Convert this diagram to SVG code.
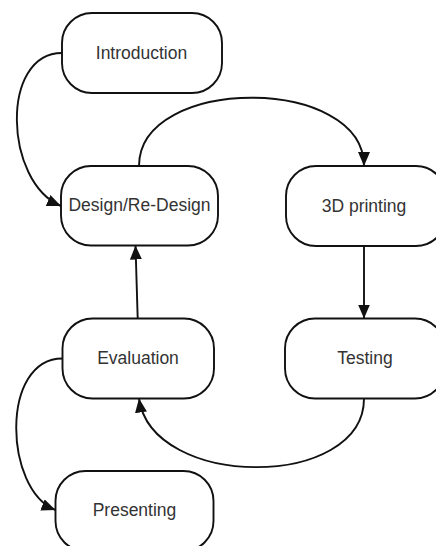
<svg xmlns="http://www.w3.org/2000/svg" width="436" height="546" viewBox="0 0 436 546">
<style>
.node rect{fill:#ffffff;stroke:#111111;stroke-width:1.9}
.node text{font-family:"Liberation Sans",Arial,sans-serif;font-size:17.5px;fill:#333333;text-anchor:middle}
.conn path{fill:none;stroke:#111111;stroke-width:1.9;marker-end:url(#arrow)}
</style>
<defs>
<marker id="arrow" markerUnits="userSpaceOnUse" markerWidth="16" markerHeight="12" refX="14" refY="6" orient="auto">
<path d="M0,0 L14,6 L0,12 z" fill="#111111"/>
</marker>
</defs>
<rect width="436" height="546" fill="#ffffff"/>
<g id="connectors" class="conn">
<path d="M62,53 C0,53 4,182 61,206"/>
<path d="M139,166 C139,75 364,75 364,166"/>
<path d="M364,246 L364,318.5"/>
<path d="M364,398.5 C364,490 152,490 139,398.5"/>
<path d="M62.5,358.5 C0,358.5 4,490 55.5,510"/>
<path d="M137.7,318.5 L135.5,245.5"/>
</g>
<g id="introduction" class="node">
<rect x="62" y="13" width="160" height="80" rx="30" ry="30"/>
<text x="141.5" y="58.5">Introduction</text>
</g>
<g id="design" class="node">
<rect x="61" y="166" width="157" height="79.5" rx="30" ry="30"/>
<text x="139.5" y="211">Design/Re-Design</text>
</g>
<g id="printing" class="node">
<rect x="286" y="166" width="160" height="80" rx="30" ry="30"/>
<text x="364" y="211.5">3D printing</text>
</g>
<g id="evaluation" class="node">
<rect x="62.5" y="318.5" width="151.5" height="80" rx="30" ry="30"/>
<text x="138" y="363.5">Evaluation</text>
</g>
<g id="testing" class="node">
<rect x="285" y="318.5" width="160" height="80" rx="30" ry="30"/>
<text x="365" y="363.5">Testing</text>
</g>
<g id="presenting" class="node">
<rect x="55.5" y="471" width="158" height="80" rx="30" ry="30"/>
<text x="134.5" y="516">Presenting</text>
</g>
</svg>
